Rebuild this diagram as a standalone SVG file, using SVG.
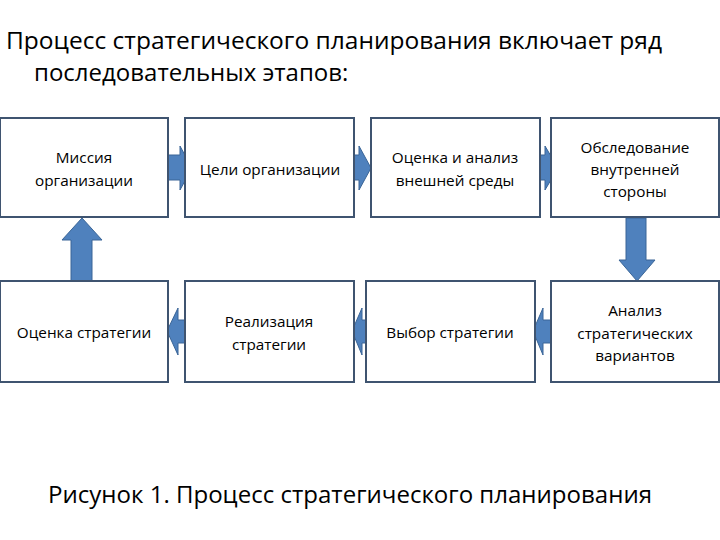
<svg xmlns="http://www.w3.org/2000/svg" width="720" height="540" viewBox="0 0 720 540">
<style>
.b{fill:#fff;stroke:#3f5470;stroke-width:2}
.t{font-family:"Open Sans","Liberation Sans",sans-serif;font-size:15.3px;fill:#000;text-anchor:middle}
.a{fill:#4f81bd;stroke:#3a6597;stroke-width:1}
.h{font-family:"Open Sans","Liberation Sans",sans-serif;fill:#000}
</style>
<rect width="720" height="540" fill="#fff"/>
<text class="h" font-size="24" x="6" y="49" textLength="656" lengthAdjust="spacingAndGlyphs">Процесс стратегического планирования включает ряд</text>
<text class="h" font-size="24" x="34" y="81">последовательных этапов:</text>
<g id="connectors">
<polygon class="a" points="168,155 180,155 180,146 192,168 180,190 180,180 168,180"/>
<polygon class="a" points="349,155 359,155 359,146 371,168 359,190 359,180 349,180"/>
<polygon class="a" points="533,155 545,155 545,146 558,168 545,190 545,180 533,180"/>
<polygon class="a" points="71,281 71,240 62,240 82,218 102,240 92,240 92,281"/>
<polygon class="a" points="626,218 646,218 646,260 655,260 637,281 619,260 626,260"/>
<polygon class="a" points="188,320 178,320 178,308 167,331 178,355 178,343 188,343"/>
<polygon class="a" points="372,320 362,320 362,308 352,331 362,355 362,343 372,343"/>
<polygon class="a" points="552,320 543,320 543,308 533,331 543,355 543,343 552,343"/>
</g>
<g id="n1"><rect class="b" x="0" y="118" width="168" height="99"/><text class="t" x="84" y="163">Миссия</text><text class="t" x="84" y="186">организации</text></g>
<g id="n2"><rect class="b" x="185" y="118" width="169" height="99"/><text class="t" x="270" y="175">Цели организации</text></g>
<g id="n3"><rect class="b" x="371" y="118" width="169" height="99"/><text class="t" x="455" y="163">Оценка и анализ</text><text class="t" x="455" y="186">внешней среды</text></g>
<g id="n4"><rect class="b" x="551" y="118" width="168" height="99"/><text class="t" x="635" y="153">Обследование</text><text class="t" x="635" y="175">внутренней</text><text class="t" x="635" y="197">стороны</text></g>
<g id="n5"><rect class="b" x="0" y="281" width="168" height="101"/><text class="t" x="84" y="338">Оценка стратегии</text></g>
<g id="n6"><rect class="b" x="185" y="281" width="169" height="101"/><text class="t" x="269" y="327">Реализация</text><text class="t" x="269" y="350">стратегии</text></g>
<g id="n7"><rect class="b" x="366" y="281" width="169" height="101"/><text class="t" x="450" y="338">Выбор стратегии</text></g>
<g id="n8"><rect class="b" x="551" y="281" width="168" height="101"/><text class="t" x="635" y="316">Анализ</text><text class="t" x="635" y="339">стратегических</text><text class="t" x="635" y="361">вариантов</text></g>
<text class="h" font-size="24" x="48" y="503" textLength="604" lengthAdjust="spacingAndGlyphs">Рисунок 1. Процесс стратегического планирования</text>
</svg>
